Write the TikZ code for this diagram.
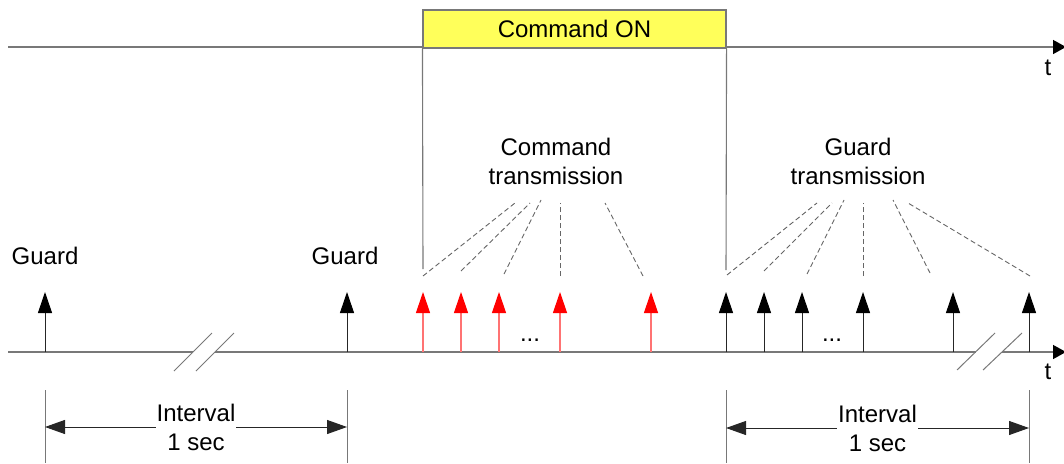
\documentclass[tikz,border=0pt]{standalone}
\usepackage{fontspec}
\setmainfont{Liberation Sans}
\usetikzlibrary{arrows.meta}
\definecolor{axisgray}{RGB}{120,120,120}
\definecolor{boxyellow}{RGB}{255,255,90}
\begin{document}
\begin{tikzpicture}[x=1pt,y=-1pt,
  axisline/.style={draw=axisgray, line width=1.4pt},
  axisarrow/.style={axisline, -{Triangle[width=14pt,length=13pt,color=black]}},
  blackpulse/.style={draw=black!85, line width=1pt, -{Triangle[width=14pt,length=21pt,color=black]}},
  redpulse/.style={draw=red!55, line width=1.2pt, -{Triangle[width=14pt,length=21pt,color=red]}},
  leader/.style={draw=black!60, line width=0.9pt, dash pattern=on 5pt off 3pt},
  thinline/.style={draw=axisgray, line width=1.1pt},
  breakmark/.style={draw=axisgray, line width=1pt},
  dimline/.style={draw=black!85, line width=1pt, {Triangle[width=14pt,length=20pt]}-{Triangle[width=14pt,length=20pt]}},
  lbl/.style={font=\fontsize{24}{29}\selectfont, align=center, inner sep=0pt},
  dimlbl/.style={lbl, fill=white, inner xsep=1pt, inner ysep=1pt},
  cmdbox/.style={draw=axisgray, line width=1.1pt, fill=boxyellow, minimum width=303pt, minimum height=38pt, inner sep=0pt, font=\fontsize{24}{29}\selectfont}
]
\useasboundingbox (0,0) rectangle (1064,463);

% ---- top time axis
\coordinate (ta0) at (8,47);
\coordinate (ta1) at (1066,47);
\draw[axisarrow] (ta0) -- (ta1);
\node[lbl, anchor=center] (tTop) at (1048,68) {t};

% ---- command box
\node[cmdbox] (cmd) at (574.5,29) {Command ON};
\coordinate (vl) at (423,269);
\coordinate (vr) at (726,270);
\draw[thinline] (cmd.south west) -- (vl);
\draw[thinline] (cmd.south east) -- (vr);

% ---- bottom time axis with breaks
\coordinate (ba0) at (8,352);
\coordinate (bbk1) at (193,352);
\coordinate (bbk2) at (215,352);
\coordinate (bbk3) at (976,352);
\coordinate (bbk4) at (1002,352);
\coordinate (ba1) at (1066,352);
\draw[axisline] (ba0) -- (bbk1);
\draw[axisline] (bbk2) -- (bbk3);
\draw[axisarrow] (bbk4) -- (ba1);
\node[lbl] (tBot) at (1048,372) {t};

% break marks
\coordinate (s1a) at (174,371); \coordinate (s1b) at (212,333);
\coordinate (s2a) at (196,371); \coordinate (s2b) at (234,333);
\coordinate (s3a) at (957,370); \coordinate (s3b) at (995,333);
\coordinate (s4a) at (983,370); \coordinate (s4b) at (1022,333);
\draw[breakmark] (s1a) -- (s1b);
\draw[breakmark] (s2a) -- (s2b);
\draw[breakmark] (s3a) -- (s3b);
\draw[breakmark] (s4a) -- (s4b);

% ---- guard pulses (left)
\foreach \x/\n in {45/g1,347/g2}{
  \coordinate (\n b) at (\x,352);
  \coordinate (\n t) at (\x,292);
  \draw[blackpulse] (\n b) -- (\n t);
}
\node[lbl] (guardA) at (45,256) {Guard};
\node[lbl] (guardB) at (345,256) {Guard};

% ---- command pulses (red)
\foreach \x/\n in {423/c1,461/c2,499/c3,560/c4,651/c5}{
  \coordinate (\n b) at (\x,352);
  \coordinate (\n t) at (\x,292);
  \draw[redpulse] (\n b) -- (\n t);
}
\node[lbl, anchor=base] (dotsA) at (530,341) {...};

% ---- guard pulses (right)
\foreach \x/\n in {726/h1,764/h2,802/h3,863/h4,953/h5,1029/h6}{
  \coordinate (\n b) at (\x,352);
  \coordinate (\n t) at (\x,292);
  \draw[blackpulse] (\n b) -- (\n t);
}
\node[lbl, anchor=base] (dotsB) at (832,341) {...};

% ---- labels
\node[lbl] (cmdtx) at (556,161) {Command\\transmission};
\node[lbl] (grdtx) at (858,161) {Guard\\transmission};

% ---- leader lines (command)
\coordinate (cl1a) at (423,276); \coordinate (cl1b) at (515,203);
\coordinate (cl2a) at (461,271); \coordinate (cl2b) at (530,203);
\coordinate (cl3a) at (504,274); \coordinate (cl3b) at (541,200);
\coordinate (cl4a) at (560,276); \coordinate (cl4b) at (560,203);
\coordinate (cl5a) at (643,276); \coordinate (cl5b) at (605,203);
\foreach \i in {1,...,5}{\draw[leader] (cl\i a) -- (cl\i b);}

% ---- leader lines (guard)
\coordinate (gl1a) at (727,275); \coordinate (gl1b) at (817,203);
\coordinate (gl2a) at (764,271); \coordinate (gl2b) at (832,203);
\coordinate (gl3a) at (807,274); \coordinate (gl3b) at (844,200);
\coordinate (gl4a) at (863,276); \coordinate (gl4b) at (863,203);
\coordinate (gl5a) at (930,273); \coordinate (gl5b) at (893,200);
\coordinate (gl6a) at (1030,276); \coordinate (gl6b) at (908,203);
\foreach \i in {1,...,6}{\draw[leader] (gl\i a) -- (gl\i b);}

% ---- interval dimensions
\foreach \x/\n in {45/d1,347/d2,726/d3,1029/d4}{
  \coordinate (\n t) at (\x,390);
  \coordinate (\n b) at (\x,463);
  \draw[thinline, line width=1pt] (\n t) -- (\n b);
}
\coordinate (da1) at (45,427); \coordinate (da2) at (347,427);
\coordinate (db1) at (726,428); \coordinate (db2) at (1029,428);
\draw[dimline] (da1) -- (da2);
\draw[dimline] (db1) -- (db2);
\node[dimlbl] (intA) at (196,427) {Interval\\1 sec};
\node[dimlbl] (intB) at (877.5,428) {Interval\\1 sec};
\end{tikzpicture}
\end{document}
